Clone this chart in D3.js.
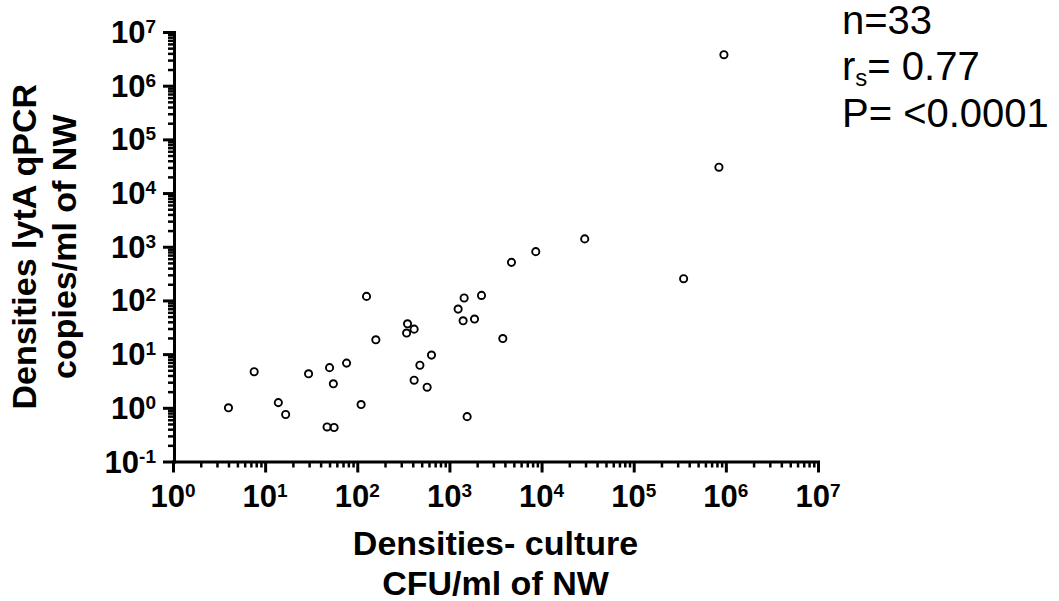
<!DOCTYPE html>
<html>
<head>
<meta charset="utf-8">
<script src="https://cdn.jsdelivr.net/npm/d3@7"></script>
<style>
  body { margin: 0; background: #fff; }
  svg { display: block; }
  text { font-family: "Liberation Sans", Arial, Helvetica, sans-serif; fill: #000; }
</style>
</head>
<body>
<svg id="chart" width="1059" height="601"></svg>
<script>
// Bacterial density in nasal wash (NW): culture vs lytA qPCR
const cultureCFU = [
  4.0, 13.9, 16.7, 47, 56, 55, 126, 159, 7.6, 29.6, 50,
  76.5, 110, 8650, 4714, 2229, 1444, 1243, 1408, 1872, 3796, 351,
  414, 343, 639, 478, 414, 573, 1556, 29400, 348000, 953000, 841000
];
const lytaCopies = [
  1.0, 1.25, 0.75, 0.44, 0.43, 2.8, 119, 18.5, 4.7, 4.3, 5.6,
  6.8, 1.15, 811, 512, 124, 111, 69, 41.8, 45, 19.5, 36.7,
  29.2, 24.7, 9.6, 6.2, 3.27, 2.42, 0.685, 1400, 254, 3780000, 30300
];

const xTickExponents = [0, 1, 2, 3, 4, 5, 6, 7];
const yTickExponents = [-1, 0, 1, 2, 3, 4, 5, 6, 7];
const xTitleLines = ["Densities- culture", "CFU/ml of NW"];
const yTitleLines = ["Densities lytA qPCR", "copies/ml of NW"];
const nLabel = "n=33";
const rsValue = "= 0.77";
const pLabel = "P= <0.0001";

const svg = d3.select("#chart");

const x = d3.scaleLog().domain([1, 1e7]).range([173, 818]);
const y = d3.scaleLog().domain([0.1, 1e7]).range([461.5, 32]);

// minor ticks: 2..9 within each decade
function minorTicks(lo, hi) {
  const out = [];
  for (let e = lo; e < hi; e++) {
    for (let m = 2; m <= 9; m++) out.push(m * Math.pow(10, e));
  }
  return out;
}

const xMajor = xTickExponents.map(e => Math.pow(10, e));
const yMajor = yTickExponents.map(e => Math.pow(10, e));

// ---- x axis
const xAxisY = 461.5;
const gx = svg.append("g").attr("transform", `translate(0,${xAxisY})`);
gx.append("g")
  .call(d3.axisBottom(x).tickValues(minorTicks(0, 7)).tickSize(6).tickSizeOuter(0).tickFormat(""))
  .call(g => g.select(".domain").remove())
  .call(g => g.selectAll("line").attr("stroke", "#000").attr("stroke-width", 2.5));
gx.append("g")
  .call(d3.axisBottom(x).tickValues(xMajor).tickSize(11).tickSizeOuter(0).tickFormat(""))
  .call(g => g.select(".domain").attr("stroke", "#000").attr("stroke-width", 3).attr("stroke-linecap", "square"))
  .call(g => g.selectAll("line").attr("stroke", "#000").attr("stroke-width", 3));

const xLabels = gx.append("g");
xTickExponents.forEach(e => {
  const t = xLabels.append("text")
    .attr("x", x(Math.pow(10, e)))
    .attr("y", 45.5)
    .attr("text-anchor", "middle")
    .attr("font-weight", "bold")
    .attr("font-size", 31);
  t.append("tspan").text("10");
  t.append("tspan").attr("dy", -10).attr("font-size", 19).text(String(e));
});

// ---- y axis
const yAxisX = 174;
const gy = svg.append("g").attr("transform", `translate(${yAxisX},0)`);
gy.append("g")
  .call(d3.axisLeft(y).tickValues(minorTicks(-1, 7)).tickSize(6).tickSizeOuter(0).tickFormat(""))
  .call(g => g.select(".domain").remove())
  .call(g => g.selectAll("line").attr("stroke", "#000").attr("stroke-width", 2.5));
gy.append("g")
  .call(d3.axisLeft(y).tickValues(yMajor).tickSize(11).tickSizeOuter(0).tickFormat(""))
  .call(g => g.select(".domain").attr("stroke", "#000").attr("stroke-width", 3).attr("stroke-linecap", "square"))
  .call(g => g.selectAll("line").attr("stroke", "#000").attr("stroke-width", 3));

const yLabels = gy.append("g");
yTickExponents.forEach(e => {
  const t = yLabels.append("text")
    .attr("x", -18)
    .attr("y", y(Math.pow(10, e)) + 11)
    .attr("text-anchor", "end")
    .attr("font-weight", "bold")
    .attr("font-size", 31);
  t.append("tspan").text("10");
  t.append("tspan").attr("dy", -10).attr("font-size", 19).text(e < 0 ? "-" + Math.abs(e) : String(e));
});

// ---- axis titles
const xMid = (x.range()[0] + x.range()[1]) / 2;
xTitleLines.forEach((line, i) => {
  svg.append("text")
    .attr("x", xMid)
    .attr("y", 555 + i * 40)
    .attr("text-anchor", "middle")
    .attr("font-weight", "bold")
    .attr("font-size", 34)
    .text(line);
});

const yMid = (y.range()[0] + y.range()[1]) / 2;
yTitleLines.forEach((line, i) => {
  svg.append("text")
    .attr("transform", `translate(${36 + i * 40},${yMid}) rotate(-90)`)
    .attr("text-anchor", "middle")
    .attr("font-weight", "bold")
    .attr("font-size", 34)
    .text(line);
});

// ---- points
svg.append("g")
  .selectAll("circle")
  .data(cultureCFU.map((c, i) => ({ c, q: lytaCopies[i] })))
  .join("circle")
  .attr("cx", d => x(d.c))
  .attr("cy", d => y(d.q))
  .attr("r", 3.6)
  .attr("fill", "none")
  .attr("stroke", "#000")
  .attr("stroke-width", 1.9);

// ---- statistics
const stats = svg.append("g").attr("font-size", 40);
stats.append("text").attr("x", 842).attr("y", 34).text(nLabel);
const rs = stats.append("text").attr("x", 842).attr("y", 80);
rs.append("tspan").text("r");
rs.append("tspan").attr("font-size", 24).attr("dy", 6).text("s");
rs.append("tspan").attr("dy", -6).text(rsValue);
stats.append("text").attr("x", 842).attr("y", 127).text(pLabel);
</script>
</body>
</html>
